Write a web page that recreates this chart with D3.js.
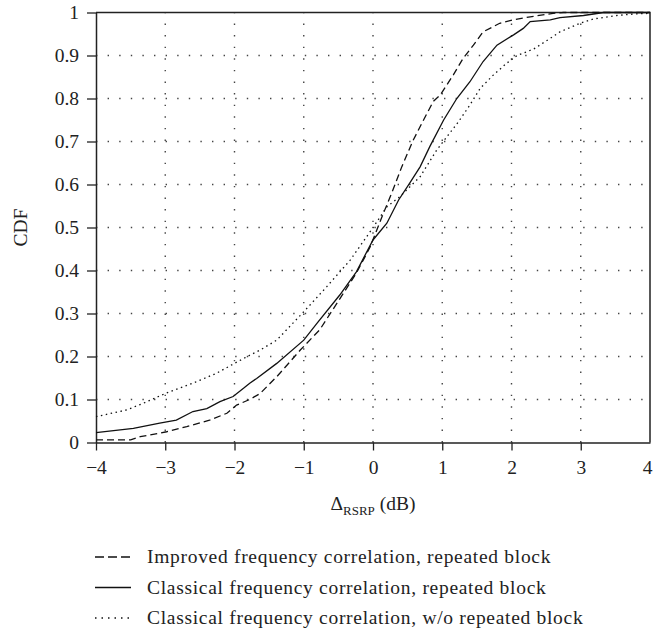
<!DOCTYPE html>
<html lang="en">
<head>
  <meta charset="UTF-8">
  <title>CDF of RSRP difference</title>
  <script src="https://cdn.jsdelivr.net/npm/d3@7"></script>
  <style>
    body { margin: 0; background: #fff; }
    svg text { font-family: "Liberation Serif", "Times New Roman", serif; fill: #222; }
  </style>
</head>
<body>
<div id="chart"></div>
<script type="text/javascript">
  // values
  var xTicks = [-4, -3, -2, -1, 0, 1, 2, 3, 4];
  var yTicks = [0, 0.1, 0.2, 0.3, 0.4, 0.5, 0.6, 0.7, 0.8, 0.9, 1];

  var improvedX = [-4, -3.5, -3.36, -2.98, -2.69, -2.36, -2.11, -1.97, -1.78, -1.63, -1.39, -1.05, -0.77, -0.52, -0.24, -0.04, 0.15, 0.27, 0.415, 0.58, 0.73, 0.87, 0.97, 1.06, 1.16, 1.3, 1.45, 1.59, 1.83, 2.03, 2.27, 2.6, 2.75, 3, 4];
  var improvedY = [0.006, 0.006, 0.0135, 0.025, 0.037, 0.052, 0.068, 0.087, 0.10, 0.114, 0.153, 0.215, 0.262, 0.324, 0.394, 0.455, 0.533, 0.58, 0.641, 0.703, 0.75, 0.793, 0.808, 0.83, 0.855, 0.893, 0.924, 0.955, 0.975, 0.983, 0.99, 0.998, 1, 1, 1];

  var classicX = [-4, -3.46, -3.08, -2.84, -2.6, -2.4, -2.21, -2.02, -1.87, -1.78, -1.68, -1.39, -1.0, -0.81, -0.48, -0.24, 0.0, 0.2, 0.37, 0.53, 0.68, 0.82, 1.02, 1.21, 1.4, 1.59, 1.79, 2.03, 2.17, 2.27, 2.56, 2.7, 3.04, 3.33, 4];
  var classicY = [0.023, 0.033, 0.045, 0.052, 0.072, 0.079, 0.095, 0.107, 0.126, 0.138, 0.149, 0.184, 0.238, 0.277, 0.343, 0.397, 0.471, 0.51, 0.564, 0.603, 0.641, 0.688, 0.75, 0.80, 0.839, 0.886, 0.924, 0.948, 0.963, 0.979, 0.983, 0.988, 0.993, 1, 1];

  var noRepX = [-4, -3.56, -3.32, -3.0, -2.6, -2.26, -2.0, -1.78, -1.63, -1.39, -1.0, -0.67, -0.33, -0.02, 0.2, 0.39, 0.68, 0.92, 1.11, 1.23, 1.4, 1.55, 1.74, 1.93, 2.08, 2.32, 2.56, 2.7, 2.99, 3.18, 3.52, 3.81, 4];
  var noRepY = [0.06, 0.0756, 0.091, 0.114, 0.138, 0.161, 0.184, 0.203, 0.215, 0.238, 0.304, 0.362, 0.424, 0.495, 0.548, 0.572, 0.618, 0.68, 0.72, 0.745, 0.785, 0.824, 0.855, 0.882, 0.9, 0.915, 0.94, 0.955, 0.975, 0.985, 0.993, 0.997, 0.998];

  var seriesNames = [
    "Improved frequency correlation, repeated block",
    "Classical frequency correlation, repeated block",
    "Classical frequency correlation, w/o repeated block"
  ];

  var W = 653, H = 630;
  var plotLeft = 96, plotTop = 12.5, plotRight = 650, plotBottom = 442.5;
  var fs = 19.5;

  var svg = d3.select("#chart").append("svg")
    .attr("width", W)
    .attr("height", H);

  var x = d3.scaleLinear().domain([-4, 4]).range([plotLeft, plotRight]);
  var y = d3.scaleLinear().domain([0, 1]).range([plotBottom, plotTop]);

  // dotted grid
  var grid = svg.append("g").attr("class", "grid")
    .attr("stroke", "#444").attr("stroke-width", 1.4)
    .attr("stroke-dasharray", "1.4,10.2");
  grid.selectAll(".gx").data(xTicks.slice(1, -1)).enter().append("line")
    .attr("x1", function(d) { return x(d); }).attr("x2", function(d) { return x(d); })
    .attr("y1", plotBottom).attr("y2", plotTop);
  grid.selectAll(".gy").data(yTicks.slice(1, -1)).enter().append("line")
    .attr("y1", function(d) { return y(d); }).attr("y2", function(d) { return y(d); })
    .attr("x1", plotLeft).attr("x2", plotRight);

  // frame top/right
  svg.append("path")
    .attr("d", "M" + plotLeft + "," + plotTop + "H" + plotRight + "V" + plotBottom)
    .attr("fill", "none").attr("stroke", "#222").attr("stroke-width", 1.5);

  var fmtMinus = function(d) { return d < 0 ? "\u2212" + Math.abs(d) : String(d); };

  var xAxis = svg.append("g")
    .attr("transform", "translate(0," + plotBottom + ")")
    .call(d3.axisBottom(x).tickValues(xTicks).tickSize(8).tickSizeOuter(0).tickPadding(10).tickFormat(fmtMinus));
  var yAxis = svg.append("g")
    .attr("transform", "translate(" + plotLeft + ",0)")
    .call(d3.axisLeft(y).tickValues(yTicks).tickSize(9).tickSizeOuter(0).tickPadding(8).tickFormat(function(d) { return d3.format("")(+d.toFixed(1)); }));

  [xAxis, yAxis].forEach(function(a) {
    a.select(".domain").attr("stroke", "#222").attr("stroke-width", 1.5);
    a.selectAll(".tick line").attr("stroke", "#222").attr("stroke-width", 1.3);
    a.selectAll(".tick text").attr("font-size", fs).attr("font-family", "Liberation Serif").attr("fill", "#222");
  });
  // last x tick: no tick mark, label kept inside the picture
  var lastTick = xAxis.selectAll(".tick").filter(function(d) { return d === 4; });
  lastTick.select("line").remove();
  lastTick.select("text").attr("text-anchor", "end").attr("x", 2);

  // axis titles
  var xt = svg.append("text")
    .attr("x", x(0)).attr("y", 510)
    .attr("text-anchor", "middle").attr("font-size", fs);
  xt.append("tspan").text("\u0394");
  xt.append("tspan").attr("font-size", 13).attr("dy", 5).text("RSRP");
  xt.append("tspan").attr("dy", -5).text(" (dB)");

  svg.append("text")
    .attr("transform", "translate(27," + y(0.5) + ") rotate(-90)")
    .attr("text-anchor", "middle").attr("font-size", fs)
    .text("CDF");

  // curves
  var line = d3.line()
    .x(function(d) { return x(d[0]); })
    .y(function(d) { return y(d[1]); });

  var series = [
    { xs: improvedX, ys: improvedY, dash: "7,4", legDash: "9,4" },
    { xs: classicX, ys: classicY, dash: null, legDash: null },
    { xs: noRepX, ys: noRepY, dash: "1.5,3.5", legDash: "1.5,5" }
  ];

  series.forEach(function(s) {
    svg.append("path")
      .datum(d3.zip(s.xs, s.ys))
      .attr("d", line)
      .attr("fill", "none")
      .attr("stroke", "#111")
      .attr("stroke-width", 1.3)
      .attr("stroke-dasharray", s.dash);
  });

  // legend
  var legend = svg.append("g").attr("class", "legend");
  series.forEach(function(s, i) {
    var ly = 557 + i * 30.5;
    legend.append("line")
      .attr("x1", 95).attr("x2", 131)
      .attr("y1", ly).attr("y2", ly)
      .attr("stroke", "#111").attr("stroke-width", 1.3)
      .attr("stroke-dasharray", s.legDash);
    legend.append("text")
      .attr("x", 147).attr("y", ly + 6)
      .attr("font-size", fs)
      .attr("letter-spacing", 0.7)
      .text(seriesNames[i]);
  });
</script>
</body>
</html>
